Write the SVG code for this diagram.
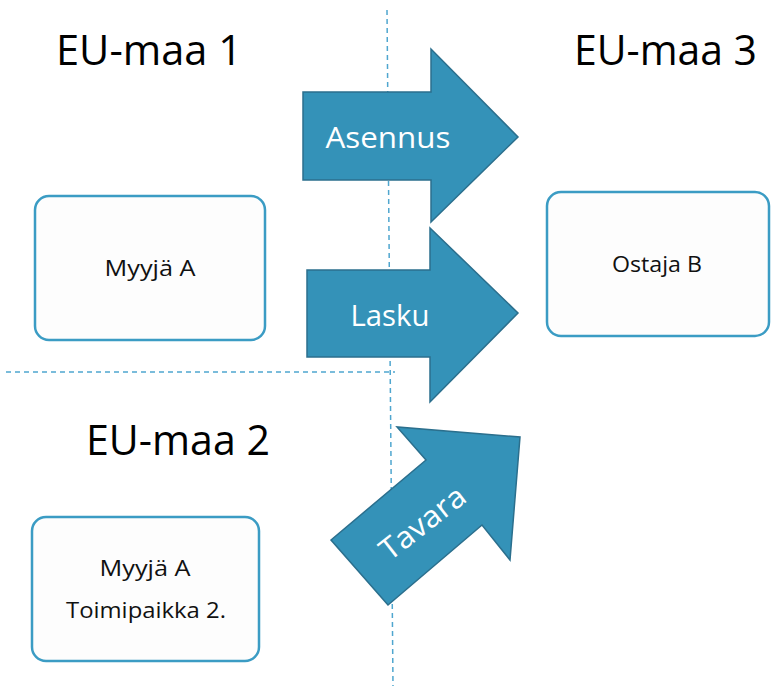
<svg xmlns="http://www.w3.org/2000/svg" width="771" height="686" viewBox="0 0 771 686">
  <style>
    .title { font-family: "Open Sans", "Noto Sans", sans-serif; font-size: 42px; fill: #000; text-anchor: start; }
    .box { fill: #fdfdfd; stroke: #3b9cc4; stroke-width: 2.5; }
    .boxtext { font-family: "Open Sans", "Noto Sans", sans-serif; font-size: 22px; fill: #111; text-anchor: middle; }
    .arrow { fill: #3492b8; stroke: #2b6f8d; stroke-width: 1.5; stroke-linejoin: miter; }
    .arrowtext { font-family: "Open Sans", "Noto Sans", sans-serif; font-size: 30px; fill: #fff; text-anchor: middle; }
    .divider { stroke: #4fa6cf; stroke-width: 1.5; stroke-dasharray: 5 4; fill: none; }
  </style>

  <!-- region dividers -->
  <g id="dividers">
    <line class="divider" x1="387" y1="10" x2="393" y2="686"/>
    <line class="divider" x1="6" y1="372" x2="395" y2="372"/>
  </g>

  <!-- region titles -->
  <g id="titles">
    <text class="title" x="56" y="65" textLength="186" lengthAdjust="spacingAndGlyphs">EU-maa 1</text>
    <text class="title" x="574" y="65" textLength="183" lengthAdjust="spacingAndGlyphs">EU-maa 3</text>
    <text class="title" x="86" y="455" textLength="184" lengthAdjust="spacingAndGlyphs">EU-maa 2</text>
  </g>

  <!-- parties -->
  <g id="myyja-a">
    <rect class="box" x="35" y="196" width="230" height="144" rx="14"/>
    <text class="boxtext" x="150" y="276" textLength="91" lengthAdjust="spacingAndGlyphs">Myyjä A</text>
  </g>
  <g id="ostaja-b">
    <rect class="box" x="547" y="192" width="222" height="144" rx="14"/>
    <text class="boxtext" x="657" y="272" textLength="90" lengthAdjust="spacingAndGlyphs">Ostaja B</text>
  </g>
  <g id="myyja-a-toimipaikka-2">
    <rect class="box" x="32" y="517" width="227" height="144" rx="14"/>
    <text class="boxtext" x="145" y="576" textLength="91" lengthAdjust="spacingAndGlyphs">Myyjä A</text>
    <text class="boxtext" x="146" y="618" textLength="160" lengthAdjust="spacingAndGlyphs">Toimipaikka 2.</text>
  </g>

  <!-- flows -->
  <g id="connectors">
    <g id="asennus">
      <polygon class="arrow" points="303,92 431,92 431,49 518,137 431,222 431,180 303,180"/>
      <text class="arrowtext" x="388" y="148" textLength="125" lengthAdjust="spacingAndGlyphs">Asennus</text>
    </g>
    <g id="lasku">
      <polygon class="arrow" points="307,270 430,270 430,228 518,313 430,402 430,357 307,357"/>
      <text class="arrowtext" x="390" y="326" textLength="79" lengthAdjust="spacingAndGlyphs">Lasku</text>
    </g>
    <g id="tavara">
      <polygon class="arrow" points="331,540 426,460 397,427 520,437 510,560 482,525 388,605"/>
      <text class="arrowtext" x="0" y="0" transform="translate(429,531) rotate(-38)" textLength="100" lengthAdjust="spacingAndGlyphs">Tavara</text>
    </g>
  </g>
</svg>
